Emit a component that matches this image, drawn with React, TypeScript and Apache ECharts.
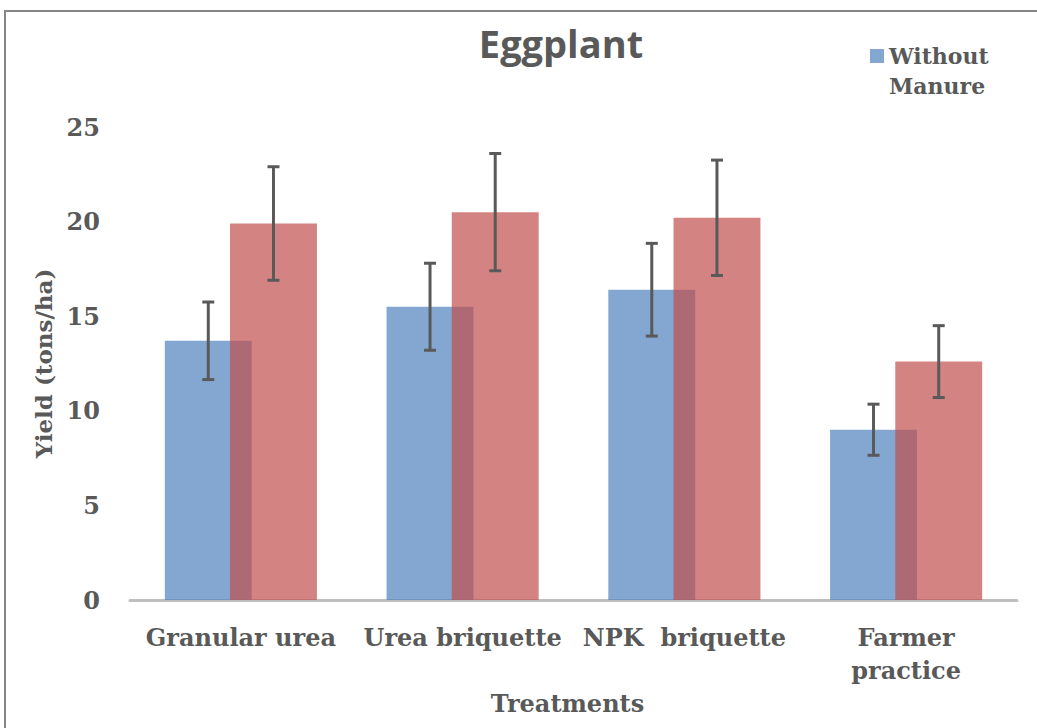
import React, { useEffect, useRef } from "react";
import * as echarts from "echarts";

const categories = ["Granular urea", "Urea briquette", "NPK  briquette", "Farmer\npractice"];
const withoutManure = [13.7, 15.5, 16.4, 9.0];
const withoutManureErr = [2.05, 2.3, 2.45, 1.35];
const withManure = [19.9, 20.5, 20.2, 12.6];
const withManureErr = [3.0, 3.1, 3.05, 1.9];
const yTicks = { min: 0, max: 25, interval: 5 };

const BAR_W = 0.392; // fraction of category width
const GAP = -0.25; // fraction of bar width
const groupW = BAR_W * 2 + GAP * BAR_W;
const offBlue = -groupW / 2 + BAR_W / 2;
const offRed = groupW / 2 - BAR_W / 2;

const TXT = "#595959";
const SERIF = "DejaVu Serif";

function errorSeries(name: string, vals: number[], errs: number[], off: number) {
  return {
    name,
    type: "custom",
    z: 5,
    data: vals.map((v, i) => [i, v, v - errs[i], v + errs[i]]),
    renderItem: (_params: any, api: any) => {
      const idx = api.value(0);
      const catW = api.size([1, 0])[0];
      const lo = api.coord([idx, api.value(2)]);
      const hi = api.coord([idx, api.value(3)]);
      const x = lo[0] + off * catW;
      const cap = 6;
      const style = { stroke: "#595959", lineWidth: 3 };
      return {
        type: "group",
        children: [
          { type: "line", shape: { x1: x, y1: hi[1], x2: x, y2: lo[1] }, style },
          { type: "line", shape: { x1: x - cap, y1: hi[1], x2: x + cap, y2: hi[1] }, style },
          { type: "line", shape: { x1: x - cap, y1: lo[1], x2: x + cap, y2: lo[1] }, style },
        ],
      };
    },
  };
}

export default function App() {
  const ref = useRef<HTMLDivElement>(null);
  useEffect(() => {
    if (!ref.current) return;
    const chart = echarts.init(ref.current, null, { renderer: "svg" });
    chart.setOption({
      animation: false,
      backgroundColor: "#ffffff",
      title: {
        text: "Eggplant",
        left: 556,
        textAlign: "center",
        top: 19,
        textStyle: { fontFamily: "Open Sans", fontWeight: "bold", fontSize: 38, color: TXT },
      },
      legend: {
        data: ["Without Manure"],
        left: 870,
        top: 41,
        padding: 0,
        itemWidth: 14,
        itemHeight: 44,
        itemGap: 6,
        icon: "path://M0,0h14v14h-14z M0,44L0.01,44L0,44Z",
        formatter: (n: string) => n.replace(" ", "\n"),
        textStyle: {
          fontFamily: SERIF,
          fontWeight: "bold",
          fontSize: 22,
          color: TXT,
          lineHeight: 30,
        },
      },
      graphic: [
        {
          type: "rect",
          shape: { x: 5, y: 11, width: 1100, height: 800 },
          style: { fill: "none", stroke: "#868686", lineWidth: 2 },
          silent: true,
        },
      ],
      grid: { left: 130, right: 20, top: 127, bottom: 128 },
      xAxis: {
        type: "category",
        data: categories,
        name: "Treatments",
        nameLocation: "middle",
        nameGap: 84,
        nameTextStyle: {
          fontFamily: SERIF,
          fontWeight: "bold",
          fontSize: 24,
          color: TXT,
          padding: [0, 12, 0, 0],
        },
        axisLine: { show: true, lineStyle: { color: "#bfbfbf", width: 3 } },
        axisTick: { show: false },
        axisLabel: {
          interval: 0,
          margin: 21,
          fontFamily: SERIF,
          fontWeight: "bold",
          fontSize: 24,
          color: TXT,
          lineHeight: 33,
        },
      },
      yAxis: {
        type: "value",
        min: yTicks.min,
        max: yTicks.max,
        interval: yTicks.interval,
        name: "Yield (tons/ha)",
        nameLocation: "middle",
        nameGap: 75,
        nameTextStyle: { fontFamily: SERIF, fontWeight: "bold", fontSize: 23, color: TXT },
        axisLine: { show: false },
        axisTick: { show: false },
        splitLine: { show: false },
        axisLabel: { margin: 30, fontFamily: SERIF, fontWeight: "bold", fontSize: 24, color: TXT },
      },
      series: [
        {
          name: "Without Manure",
          type: "bar",
          data: withoutManure,
          barWidth: (BAR_W * 100).toFixed(1) + "%",
          barGap: (GAP * 100).toFixed(0) + "%",
          itemStyle: { color: "#4F81BD", opacity: 0.7 },
        },
        {
          name: "With Manure",
          type: "bar",
          data: withManure,
          barWidth: (BAR_W * 100).toFixed(1) + "%",
          barGap: (GAP * 100).toFixed(0) + "%",
          itemStyle: { color: "#C0504D", opacity: 0.7 },
        },
        errorSeries("Without Manure error", withoutManure, withoutManureErr, offBlue),
        errorSeries("With Manure error", withManure, withManureErr, offRed),
      ],
    });
    return () => chart.dispose();
  }, []);
  return (
    <div
      ref={ref}
      style={{ position: "absolute", left: 0, top: 0, width: 1037, height: 728 }}
    />
  );
}
